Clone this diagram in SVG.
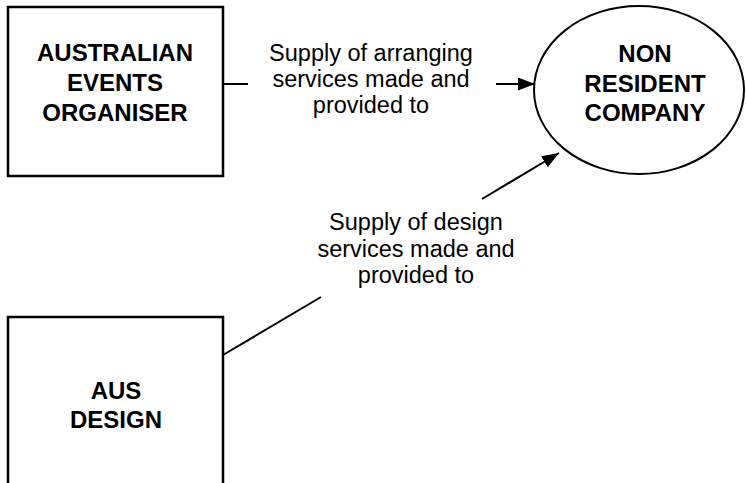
<svg xmlns="http://www.w3.org/2000/svg" width="746" height="483" viewBox="0 0 746 483">
<style>
.box{fill:#fff;stroke:#000;stroke-width:2.5}
.conn{fill:none;stroke:#000;stroke-width:2}
.bold{font-family:"Liberation Sans",Arial,sans-serif;font-weight:bold;font-size:24px;text-anchor:middle;fill:#000}
.lab{font-family:"Liberation Sans",Arial,sans-serif;font-size:23.5px;text-anchor:middle;fill:#000}
</style>
<defs>
<marker id="arr" markerUnits="userSpaceOnUse" markerWidth="18" markerHeight="13" refX="17" refY="6.5" orient="auto">
<path d="M0,0 L17,6.5 L0,13 z" fill="#000"/>
</marker>
</defs>
<rect width="746" height="483" fill="#fff"/>
<g id="australian-events-organiser">
<rect class="box" x="8" y="7" width="215" height="169"/>
<text class="bold" x="115" y="61">AUSTRALIAN</text>
<text class="bold" x="115" y="91">EVENTS</text>
<text class="bold" x="115" y="121">ORGANISER</text>
</g>
<g id="non-resident-company">
<ellipse cx="639" cy="90" rx="105" ry="84" fill="#fff" stroke="#000" stroke-width="2"/>
<text class="bold" x="645" y="62">NON</text>
<text class="bold" x="645" y="92">RESIDENT</text>
<text class="bold" x="645" y="121">COMPANY</text>
</g>
<g id="aus-design">
<rect class="box" x="8" y="317" width="215" height="180"/>
<text class="bold" x="116" y="399">AUS</text>
<text class="bold" x="116" y="428">DESIGN</text>
</g>
<g id="connectors">
<line class="conn" x1="223" y1="84" x2="248" y2="84"/>
<line class="conn" x1="496" y1="84" x2="535" y2="84" marker-end="url(#arr)"/>
<line class="conn" x1="223" y1="355" x2="321" y2="297"/>
<line class="conn" x1="482" y1="199" x2="559" y2="153" marker-end="url(#arr)"/>
<text class="lab" x="371" y="61">Supply of arranging</text>
<text class="lab" x="371" y="87">services made and</text>
<text class="lab" x="371" y="113">provided to</text>
<text class="lab" x="416" y="230">Supply of design</text>
<text class="lab" x="416" y="257">services made and</text>
<text class="lab" x="416" y="283">provided to</text>
</g>
</svg>
